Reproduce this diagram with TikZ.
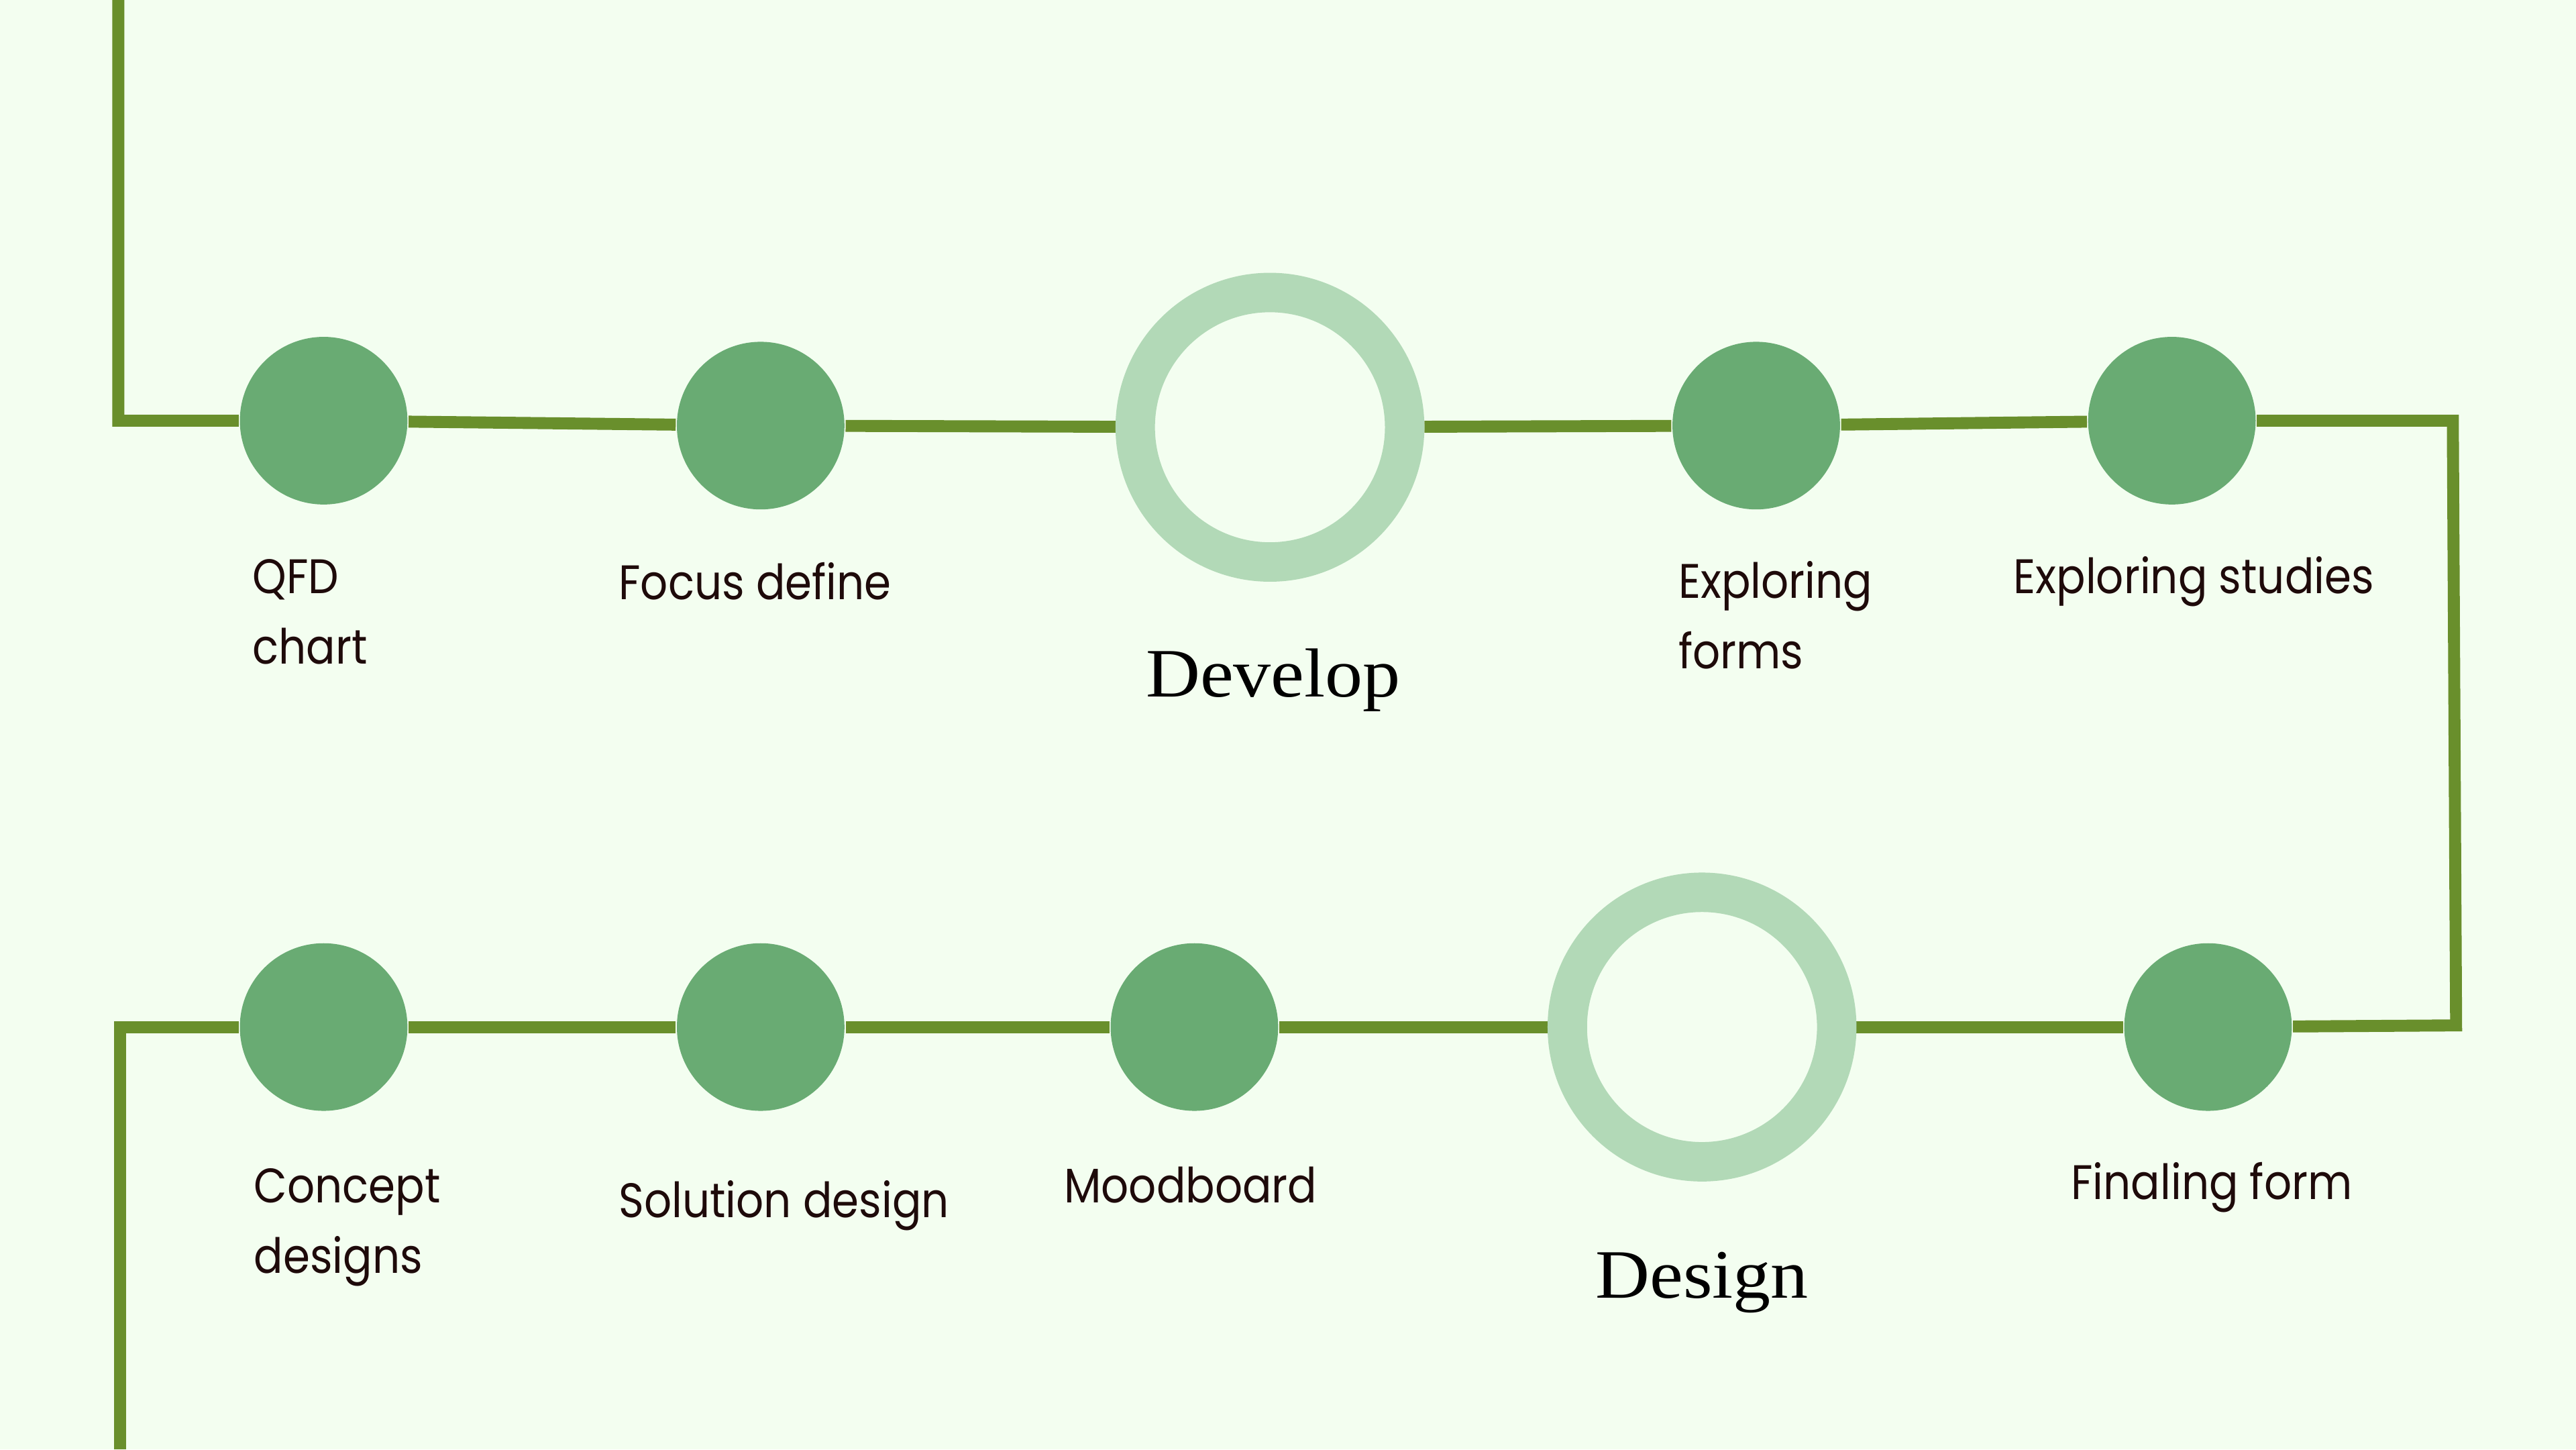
\documentclass[tikz,border=0pt]{standalone}
\usepackage{fontspec}
\usepackage{xcolor}
\usepackage{tikz}
\usetikzlibrary{backgrounds}

\setmainfont{Poppins}[FakeStretch=0.89]
\newfontfamily\headfont{Liberation Serif}[FakeStretch=1.085]

\definecolor{bgmint}{HTML}{F3FEF0}
\definecolor{trackgreen}{HTML}{698F2C}
\definecolor{dotgreen}{HTML}{69AB73}
\definecolor{ringgreen}{HTML}{B2D9B7}
\definecolor{inkbrown}{HTML}{1E0A0A}

\begin{document}
\begin{tikzpicture}[
    dot/.style={
        circle, fill=dotgreen, draw=none,
        minimum size=1.02cm, inner sep=0pt
    },
    phase/.style={
        circle, draw=ringgreen, line width=0.24cm,
        minimum size=1.64cm, inner sep=0pt
    },
    lbl/.style={
        anchor=base west, align=left, inner sep=0pt,
        text=inkbrown, font=\fontsize{8.4}{12.2}\selectfont
    },
    head/.style={
        anchor=base, inner sep=0pt,
        text=black, font=\headfont\fontsize{12}{14}\selectfont
    },
    track/.style={line width=0.073cm, trackgreen}
]
\useasboundingbox (0,0) rectangle (15.68,8.82);

% Top row
\node[dot] (qfd) at (1.97,6.26) {};
\node[dot] (focus) at (4.63,6.23) {};
\node[phase] (develop) at (7.73,6.22) {};
\node[dot] (expforms) at (10.69,6.23) {};
\node[dot] (expstudies) at (13.22,6.26) {};

% Bottom row
\node[dot] (concept) at (1.97,2.57) {};
\node[dot] (solution) at (4.63,2.57) {};
\node[dot] (mood) at (7.27,2.57) {};
\node[phase] (design) at (10.36,2.57) {};
\node[dot] (finaling) at (13.44,2.57) {};

% Labels (two-line ones sit on their last line)
\node[lbl] (qfdlab) at (1.53,4.78) {QFD\\chart};
\node[lbl] (focuslab) at (3.76,5.17) {Focus define};
\node[lbl] (expformslab) at (10.21,4.75) {Exploring\\forms};
\node[lbl] (expstudieslab) at (12.25,5.21) {Exploring studies};
\node[lbl] (conceptlab) at (1.54,1.07) {Concept\\designs};
\node[lbl] (solutionlab) at (3.76,1.41) {Solution design};
\node[lbl] (moodlab) at (6.47,1.50) {Moodboard};
\node[lbl] (finalinglab) at (12.60,1.52) {Finaling form};
\node[head] (developlab) at (7.75,4.58) {Develop};
\node[head] (designlab) at (10.36,0.92) {Design};

% Turning points of the track
\coordinate (topin) at (0.72,8.82);
\coordinate (rtop) at (14.93,6.26);
\coordinate (rbot) at (14.95,2.58);
\coordinate (botout) at (0.73,0);

% Track
\begin{scope}[on background layer]
\fill[bgmint] (0,0) rectangle (15.68,8.82);
\draw[track] (topin) |- (qfd) -- (focus) -- (develop) -- (expforms) -- (expstudies) -- (rtop) -- (rbot) -- (finaling);
\draw[track] (finaling) -- (design) -- (mood) -- (solution) -- (concept) -| (botout);
\end{scope}
\end{tikzpicture}
\end{document}
